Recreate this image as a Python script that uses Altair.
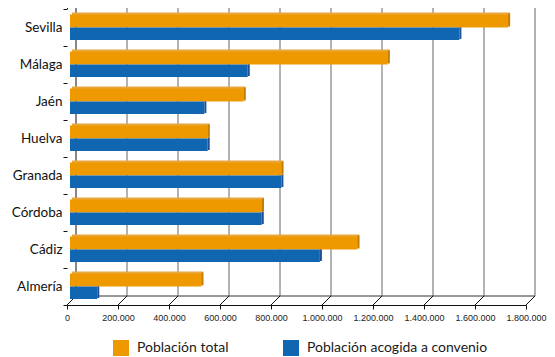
import altair as alt
import pandas as pd

provinces = ["Sevilla", "Málaga", "Jaén", "Huelva", "Granada", "Córdoba", "Cádiz", "Almería"]
poblacion_total = [1718000, 1246000, 681000, 540000, 829000, 753000, 1127000, 515000]
poblacion_convenio = [1527000, 697000, 527000, 540000, 829000, 752000, 980000, 107000]
series = ["Población total", "Población acogida a convenio"]
x_ticks = [0, 200000, 400000, 600000, 800000, 1000000, 1200000, 1400000, 1600000, 1800000]

colors = ["#EE9900", "#1166B1"]
side_colors = ["#C47D00", "#1F4F96"]
top_color = "#E8A63E"

rows = []
for p, t, c in zip(provinces, poblacion_total, poblacion_convenio):
    rows.append({"prov": p, "serie": series[0], "valor": t})
    rows.append({"prov": p, "serie": series[1], "valor": c})
df = pd.DataFrame(rows)
ticks_df = pd.DataFrame({"v": x_ticks})

W, H, D = 459, 296, 9

xscale = alt.Scale(domain=[0, 1800000], nice=False, zero=True)
yscale = alt.Scale(domain=provinces, paddingInner=0, paddingOuter=0)
cscale = alt.Scale(domain=series, range=colors)

def xq(field="v"):
    return alt.X(f"{field}:Q", scale=xscale, axis=None)

# back wall gridlines
grid = alt.Chart(ticks_df).transform_filter("datum.v > 0").mark_rule(
    color="#666666", strokeWidth=1, xOffset=D
).encode(x=xq(), y=alt.value(-D), y2=alt.value(H - D))

wall = alt.Chart(ticks_df).transform_filter("datum.v == 0").mark_rule(
    color="#111111", strokeWidth=1, xOffset=D
).encode(x=xq(), y=alt.value(-D), y2=alt.value(H - D))

floor_back = alt.Chart(ticks_df).mark_rule(
    color="#333333", strokeWidth=1, xOffset=D, x2Offset=D
).encode(x=alt.X("min(v):Q", scale=xscale, axis=None), x2="max(v):Q", y=alt.value(H - D))

diag = alt.Chart(ticks_df).mark_rule(color="#111111", strokeWidth=1, x2Offset=D).encode(
    x=xq(), x2="v:Q", y=alt.value(H), y2=alt.value(H - D)
)

top_diag = alt.Chart(ticks_df).transform_filter("datum.v == 0").mark_rule(
    color="#111111", strokeWidth=1, x2Offset=D
).encode(x=xq(), x2="v:Q", y=alt.value(0), y2=alt.value(-D))

y_none = alt.Y("prov:N", scale=yscale, axis=None, sort=provinces)

h0, yo0 = 13, -6.5
h1, yo1 = 12.5, 6.25

base0 = alt.Chart(df).transform_filter(alt.datum.serie == series[0])
base1 = alt.Chart(df).transform_filter(alt.datum.serie == series[1])

blue_side = base1.mark_bar(color=side_colors[1], height=h1, yOffset=yo1 - 1, xOffset=3, x2Offset=5).encode(
    x=xq("valor"), x2="valor:Q", y=y_none
)
orange_top = base0.mark_bar(color=top_color, height=h0, yOffset=yo0 - 2, xOffset=5, x2Offset=5).encode(
    x=xq("valor"), y=y_none
)
orange_side = base0.mark_bar(color=side_colors[0], height=h0, yOffset=yo0 - 1, xOffset=3, x2Offset=5).encode(
    x=xq("valor"), x2="valor:Q", y=y_none
)

legend = alt.Legend(
    orient="none", legendX=46, legendY=331, direction="horizontal", title=None,
    symbolType="square", symbolSize=256, symbolStrokeWidth=0,
    labelFont="Lato", labelFontSize=14, labelColor="#1a1a1a", labelOffset=8,
    labelLimit=400, columnPadding=54, padding=0,
)

orange_main = base0.mark_bar(height=h0, yOffset=yo0, xOffset=3, x2Offset=3).encode(
    x=alt.X(
        "valor:Q", scale=xscale,
        axis=alt.Axis(
            values=x_ticks, title=None, grid=False,
            labelExpr="replace(format(datum.value, ','), regexp(',', 'g'), '.')",
            labelFont="Liberation Sans", labelFontSize=9,
            labelColor="#222222", labelPadding=4, tickSize=4, tickColor="#111111",
            domainColor="#111111", labelFlush=False,
        ),
    ),
    y=alt.Y(
        "prov:N", scale=yscale, sort=provinces,
        axis=alt.Axis(
            title=None, domain=False, tickBand="extent", tickSize=4, tickColor="#111111",
            labelFont="Lato", labelFontSize=13.5, labelColor="#111111", labelPadding=1,
        ),
    ),
    color=alt.Color("serie:N", scale=cscale, legend=legend),
)

blue_main = base1.mark_bar(height=h1, yOffset=yo1, xOffset=3, x2Offset=3).encode(
    x=xq("valor"), y=y_none,
    color=alt.Color("serie:N", scale=cscale, legend=legend),
)

chart = alt.layer(
    grid, wall, floor_back, diag, top_diag,
    blue_side, orange_top, orange_side, orange_main, blue_main,
).resolve_axis(x="independent", y="independent").properties(
    width=W, height=H,
    padding={"left": 59, "top": 1, "right": 21, "bottom": 52},
    autosize=alt.AutoSizeParams(type="none"),
).configure_view(stroke="transparent")

chart.save("out.html", embed_options={"renderer": "svg", "actions": False})
